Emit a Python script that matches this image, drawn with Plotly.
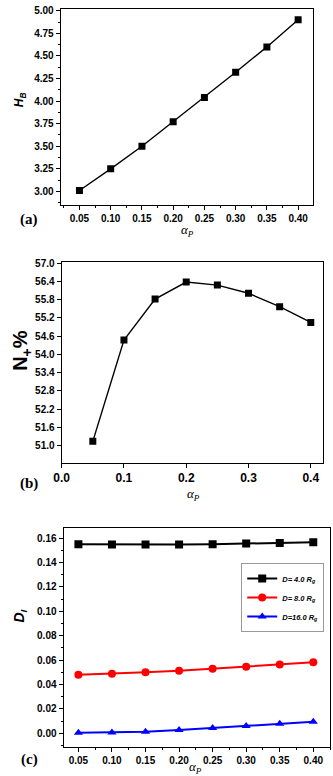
"""Three stacked panels: H_B, N+% and D_I versus alpha_P."""

import plotly.graph_objects as go

# ---------------------------------------------------------------------------
# Data
# ---------------------------------------------------------------------------

alpha_a = [0.05, 0.10, 0.15, 0.20, 0.25, 0.30, 0.35, 0.40]
h_b = [3.01, 3.25, 3.50, 3.77, 4.04, 4.32, 4.60, 4.90]

alpha_b = [0.05, 0.10, 0.15, 0.20, 0.25, 0.30, 0.35, 0.40]
n_plus = [51.14, 54.47, 55.82, 56.38, 56.28, 56.01, 55.57, 55.05]

alpha_c = [0.05, 0.10, 0.15, 0.20, 0.25, 0.30, 0.35, 0.40]
d_4 = [0.1550, 0.1548, 0.1547, 0.1547, 0.1550, 0.1555, 0.1560, 0.1565]
d_8 = [0.0480, 0.0488, 0.0499, 0.0512, 0.0528, 0.0545, 0.0563, 0.0582]
d_16 = [0.0003, 0.0006, 0.0013, 0.0027, 0.0043, 0.0060, 0.0077, 0.0094]

series_c = [
    ("<b><i>D= 4.0 R<sub>g</sub></i></b>", d_4, "#000000", "square"),
    ("<b><i>D= 8.0 R<sub>g</sub></i></b>", d_8, "#ff0000", "circle"),
    ("<b><i>D=16.0 R<sub>g</sub></i></b>", d_16, "#0000ff", "triangle-up"),
]

# ---------------------------------------------------------------------------
# Figure
# ---------------------------------------------------------------------------

W, H = 333, 776
FONT = "Arial, Liberation Sans, sans-serif"
SERIF = "Liberation Serif, Times New Roman, serif"
TICKFONT = dict(family=FONT, size=10, color="#000", weight="bold")


def _px(x0, x1, y0, y1):
    """Pixel box (left, right, top, bottom) to paper domains."""
    return [x0 / W, x1 / W], [1 - y1 / H, 1 - y0 / H]


def _axis(domain, rng, dtick, fmt, anchor, minor=True, tickfont=TICKFONT):
    ax = dict(
        domain=domain,
        range=rng,
        dtick=dtick,
        tickformat=fmt,
        anchor=anchor,
        showgrid=False,
        zeroline=False,
        showline=True,
        linecolor="#000",
        linewidth=1.2,
        mirror=True,
        ticks="outside",
        ticklen=4,
        tickwidth=1,
        tickcolor="#000",
        tickfont=tickfont,
    )
    if minor:
        ax["minor"] = dict(ticks="outside", ticklen=2, tickcolor="#000", dtick=dtick / 2)
    return ax


fig = go.Figure()

# (a)
fig.add_trace(
    go.Scatter(
        x=alpha_a, y=h_b, mode="lines+markers", xaxis="x", yaxis="y",
        line=dict(color="#000", width=1.4),
        marker=dict(symbol="square", size=7, color="#000"),
        showlegend=False,
    )
)

# (b)
fig.add_trace(
    go.Scatter(
        x=alpha_b, y=n_plus, mode="lines+markers", xaxis="x2", yaxis="y2",
        line=dict(color="#000", width=1.4),
        marker=dict(symbol="square", size=7, color="#000"),
        showlegend=False,
    )
)

# (c)
for name, vals, color, sym in series_c:
    fig.add_trace(
        go.Scatter(
            x=alpha_c, y=vals, mode="lines+markers", xaxis="x3", yaxis="y3",
            name=name,
            line=dict(color=color, width=2),
            marker=dict(symbol=sym, size=8, color=color),
        )
    )

xa, ya = _px(54, 312, 5, 202)
xb, yb = _px(55, 323, 259, 461)
xc, yc = _px(57, 330, 527, 747)

fig.update_layout(
    width=W,
    height=H,
    margin=dict(l=0, r=0, t=0, b=0),
    paper_bgcolor="white",
    plot_bgcolor="white",
    font=dict(family=FONT, color="#000"),
    xaxis=_axis(xa, [0.02, 0.423], 0.05, ".2f", "y"),
    yaxis=_axis(ya, [2.85, 5.02], 0.25, ".2f", "x"),
    xaxis2=_axis(xb, [0.0, 0.42], 0.1, ".1f", "y2", minor=False,
                 tickfont=dict(family=FONT, size=12, color="#000", weight="bold")),
    yaxis2=_axis(yb, [50.44, 57.05], 0.6, ".1f", "x2", minor=False),
    xaxis3=_axis(xc, [0.028, 0.425], 0.05, ".2f", "y3"),
    yaxis3=_axis(yc, [-0.0114, 0.168], 0.02, ".2f", "x3"),
    legend=dict(
        x=324 / W, y=1 - 562 / H, xanchor="right", yanchor="top",
        bgcolor="white", bordercolor="#999", borderwidth=1,
        font=dict(family=FONT, size=7.5, color="#000"),
        itemwidth=30, tracegroupgap=0,
    ),
)

# axis titles and panel labels as annotations
notes = [
    (12, 96, "<b><i>H<sub>B</sub></i></b>", 12, -90, FONT),
    (184, 228, "<i>α<sub>P</sub></i>", 13, 0, SERIF),
    (14, 348, "<b>N<sub>+</sub>%</b>", 20, -90, FONT),
    (190, 493, "<i>α<sub>P</sub></i>", 13, 0, SERIF),
    (12, 615, "<b><i>D<sub>I</sub></i></b>", 14, -90, FONT),
    (192, 767, "<i>α<sub>P</sub></i>", 13, 0, SERIF),
    (22, 217, "<b>(a)</b>", 15, 0, SERIF),
    (22, 482, "<b>(b)</b>", 15, 0, SERIF),
    (22, 759, "<b>(c)</b>", 15, 0, SERIF),
]
for x, y, text, size, angle, fam in notes:
    fig.add_annotation(
        x=x / W, y=1 - y / H, xref="paper", yref="paper",
        text=text, showarrow=False, textangle=angle,
        font=dict(family=fam, size=size, color="#000"),
        xanchor="center", yanchor="middle",
    )

# drop the default 8px body margin so the figure fills the window
fig.write_html(
    "out.html",
    config={"displayModeBar": False},
    post_script="document.body.style.margin='0';",
)
